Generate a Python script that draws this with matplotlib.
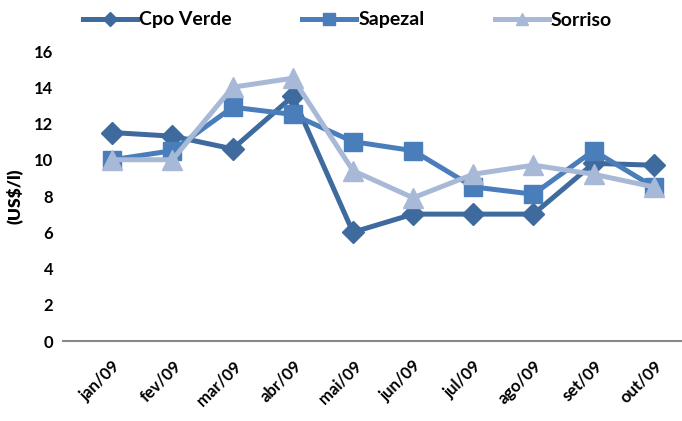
import matplotlib
matplotlib.use("Agg")
import matplotlib.pyplot as plt

months = ["jan/09", "fev/09", "mar/09", "abr/09", "mai/09",
          "jun/09", "jul/09", "ago/09", "set/09", "out/09"]
cpo_verde = [11.5, 11.3, 10.6, 13.5, 6.0, 7.0, 7.0, 7.0, 9.8, 9.7]
sapezal = [10.0, 10.5, 12.9, 12.5, 11.0, 10.5, 8.5, 8.1, 10.5, 8.5]
sorriso = [10.0, 10.0, 14.0, 14.5, 9.4, 7.9, 9.2, 9.7, 9.2, 8.5]
yticks = [0, 2, 4, 6, 8, 10, 12, 14, 16]

plt.rcParams["font.family"] = ["Lato", "DejaVu Sans"]
plt.rcParams["font.weight"] = "bold"
plt.rcParams["axes.labelweight"] = "bold"

fig = plt.figure(figsize=(6.82, 4.21), dpi=100)
ax = fig.add_axes([63 / 682, 80 / 421, 619 / 682, 290 / 421])

x = list(range(len(months)))
ax.plot(x, cpo_verde, color="#3E6A9E", lw=3.6, marker="D", ms=11, label="Cpo Verde")
ax.plot(x, sapezal, color="#4A7EBB", lw=3.6, marker="s", ms=13, label="Sapezal")
ax.plot(x, sorriso, color="#A7B9D7", lw=3.6, marker="^", ms=14, label="Sorriso")

ax.set_xlim(-0.82, 9.47)
ax.set_ylim(0, 16)
ax.set_yticks(yticks)
ax.set_xticks(x)
ax.set_xticklabels(months, rotation=45, ha="right", rotation_mode="anchor")
ax.tick_params(axis="both", length=0, labelsize=12)
ax.tick_params(axis="y", pad=7)
ax.tick_params(axis="x", pad=12)
for s in ["top", "right", "left"]:
    ax.spines[s].set_visible(False)
ax.spines["bottom"].set_color("#888888")
ax.spines["bottom"].set_linewidth(1.5)
ax.set_ylabel("(US$/l)", fontsize=12.5, fontweight="heavy", labelpad=8)

ax.legend(loc="center left", bbox_to_anchor=(83 / 682, 1 - 20 / 421),
          bbox_transform=fig.transFigure, ncol=3, frameon=False,
          fontsize=14, handlelength=2.8, columnspacing=3.6, handletextpad=0.1,
          borderaxespad=0, borderpad=0, markerscale=0.65)

fig.savefig("out.png", dpi=100)
